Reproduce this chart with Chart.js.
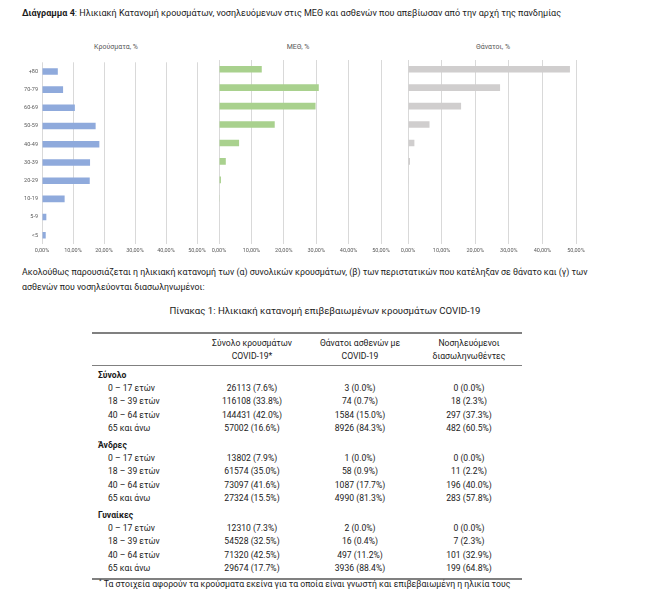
<!DOCTYPE html>
<html lang="el">
<head>
<meta charset="utf-8">
<script src="https://cdn.jsdelivr.net/npm/chart.js@4/dist/chart.umd.min.js"></script>
<style>
    body { margin: 0; background: #fff; font-family: Roboto, "Noto Sans", sans-serif; color: #1b1b1b; }
    #page { position: relative; width: 650px; height: 608px; overflow: hidden; }
    .abs { position: absolute; white-space: nowrap; }
    .chartTitle { font-size: 7px; color: #595959; transform: translateX(-50%); }
    canvas { position: absolute; }
    #dataTable { position: absolute; left: 92px; top: 332px; width: 430px; border-collapse: collapse; font-size: 8.6px; }
    #dataTable th { font-weight: normal; line-height: 13px; height: 31px; padding: 0; text-align: center; vertical-align: middle;
        border-top: 2px solid #808080; border-bottom: 1.5px solid #808080; }
    #dataTable td { padding: 0; height: 13.45px; line-height: 13.45px; text-align: center; }
    #dataTable td.lbl { text-align: left; padding-left: 16px; }
    #dataTable tr.grp td { height: 16px; line-height: 13px; padding-top: 3px; box-sizing: border-box; font-weight: bold; text-align: left; padding-left: 6px; vertical-align: top; }
    #dataTable tr.last td { border-bottom: 2px solid #808080; height: 16px; vertical-align: top; }
</style>
</head>
<body>
<div id="page">
    <div class="abs" style="left:22px; top:8px; font-size:9px;"><b>Διάγραμμα 4</b>: Ηλικιακή Κατανομή κρουσμάτων, νοσηλευόμενων στις ΜΕΘ και ασθενών που απεβίωσαν από την αρχή της πανδημίας</div>

    <div class="abs chartTitle" style="left:116px; top:43px;">Κρούσματα, %</div>
    <div class="abs chartTitle" style="left:298px; top:43px;">ΜΕΘ, %</div>
    <div class="abs chartTitle" style="left:493px; top:43px;">Θάνατοι, %</div>

    <canvas id="casesChart" style="left:0px; top:55px; width:215px; height:209px;"></canvas>
    <canvas id="icuChart" style="left:205px; top:55px; width:200px; height:209px;"></canvas>
    <canvas id="deathsChart" style="left:394px; top:55px; width:256px; height:209px;"></canvas>

    <div class="abs" style="left:22px; top:265px; font-size:8.8px; line-height:15px;">Ακολούθως παρουσιάζεται η ηλικιακή κατανομή των (α) συνολικών κρουσμάτων, (β) των περιστατικών που κατέληξαν σε θάνατο και (γ) των<br>ασθενών που νοσηλεύονται διασωληνωμένοι:</div>

    <div class="abs" style="left:325px; top:305px; font-size:9.6px; transform:translateX(-50%);">Πίνακας 1: Ηλικιακή κατανομή επιβεβαιωμένων κρουσμάτων COVID-19</div>

    <table id="dataTable"></table>

    <div class="abs" style="left:99px; top:577px; font-size:8.7px;"><sup style="font-size:6px;">*</sup> Τα στοιχεία αφορούν τα κρούσματα εκείνα για τα οποία είναι γνωστή και επιβεβαιωμένη η ηλικία τους</div>
</div>

<script>
// Chart data (% per age group)
const ageLabels = ['+80', '70-79', '60-69', '50-59', '40-49', '30-39', '20-29', '10-19', '5-9', '<5'];
const casesPct = [5.1, 6.8, 10.6, 17.3, 18.5, 15.5, 15.4, 7.3, 1.4, 1.2];
const icuPct = [13.2, 30.8, 29.8, 17.2, 6.2, 2.1, 0.6, 0.1, 0, 0];
const deathsPct = [48.2, 27.4, 15.8, 6.4, 1.9, 0.6, 0.1, 0, 0, 0];

// Table data
const tableHeaders = ['Σύνολο κρουσμάτων<br>COVID-19*', 'Θάνατοι ασθενών με<br>COVID-19', 'Νοσηλευόμενοι<br>διασωληνωθέντες'];
const groups = ['Σύνολο', 'Άνδρες', 'Γυναίκες'];
const ageGroups = ['0 – 17 ετών', '18 – 39 ετών', '40 – 64 ετών', '65 και άνω'];
const casesCol = [
    '26113 (7.6%)', '116108 (33.8%)', '144431 (42.0%)', '57002 (16.6%)',
    '13802 (7.9%)', '61574 (35.0%)', '73097 (41.6%)', '27324 (15.5%)',
    '12310 (7.3%)', '54528 (32.5%)', '71320 (42.5%)', '29674 (17.7%)'
];
const deathsCol = [
    '3 (0.0%)', '74 (0.7%)', '1584 (15.0%)', '8926 (84.3%)',
    '1 (0.0%)', '58 (0.9%)', '1087 (17.7%)', '4990 (81.3%)',
    '2 (0.0%)', '16 (0.4%)', '497 (11.2%)', '3936 (88.4%)'
];
const intubatedCol = [
    '0 (0.0%)', '18 (2.3%)', '297 (37.3%)', '482 (60.5%)',
    '0 (0.0%)', '11 (2.2%)', '196 (40.0%)', '283 (57.8%)',
    '0 (0.0%)', '7 (2.3%)', '101 (32.9%)', '199 (64.8%)'
];

// Build table
function buildTable() {
    const table = document.getElementById('dataTable');
    let html = '<colgroup><col style="width:108px"><col style="width:104px"><col style="width:112px"><col style="width:106px"></colgroup>';
    html += '<thead><tr><th></th>' + tableHeaders.map(h => `<th>${h}</th>`).join('') + '</tr></thead><tbody>';
    groups.forEach((g, gi) => {
        html += `<tr class="grp"><td colspan="4">${g}</td></tr>`;
        ageGroups.forEach((a, ai) => {
            const i = gi * ageGroups.length + ai;
            const cls = (gi === groups.length - 1 && ai === ageGroups.length - 1) ? ' class="last"' : '';
            html += `<tr${cls}><td class="lbl">${a}</td><td>${casesCol[i]}</td><td>${deathsCol[i]}</td><td>${intubatedCol[i]}</td></tr>`;
        });
    });
    html += '</tbody>';
    table.innerHTML = html;
}
buildTable();

// Chart.js renders
const tickColor = '#595959';
const gridColor = '#d9d9d9';

function renderAgeChart(id, data, color, showLabels, padding) {
    const ctx = document.getElementById(id).getContext('2d');
    return new Chart(ctx, {
        type: 'bar',
        data: {
            labels: ageLabels,
            datasets: [{
                data: data,
                backgroundColor: color,
                borderWidth: 0,
                barPercentage: 0.36,
                categoryPercentage: 1
            }]
        },
        options: {
            indexAxis: 'y',
            responsive: false,
            animation: false,
            layout: { padding: padding },
            plugins: {
                legend: { display: false },
                tooltip: { enabled: false }
            },
            scales: {
                x: {
                    min: 0,
                    max: 50,
                    grid: { color: gridColor, drawTicks: false },
                    border: { display: false },
                    ticks: {
                        stepSize: 10,
                        padding: 3,
                        color: tickColor,
                        font: { size: 5.5, family: 'Roboto' },
                        callback: v => v.toFixed(2).replace('.', ',') + '%'
                    }
                },
                y: {
                    display: showLabels,
                    grid: { display: false, drawTicks: false },
                    border: { display: false },
                    ticks: { padding: 4, color: tickColor, font: { size: 5.5, family: 'Roboto' } },
                    afterFit: s => { if (showLabels) s.width = 42; }
                }
            }
        }
    });
}

function sizeCanvas(id) {
    const c = document.getElementById(id);
    c.width = parseInt(c.style.width);
    c.height = parseInt(c.style.height);
}
['casesChart', 'icuChart', 'deathsChart'].forEach(sizeCanvas);

renderAgeChart('casesChart', casesPct, '#8faadc', true, { left: 0, right: 18, top: 5, bottom: 7 });
renderAgeChart('icuChart', icuPct, '#a9d18e', false, { left: 14, right: 24, top: 5, bottom: 7 });
renderAgeChart('deathsChart', deathsPct, '#d0cece', false, { left: 14, right: 74, top: 5, bottom: 7 });
</script>
</body>
</html>
